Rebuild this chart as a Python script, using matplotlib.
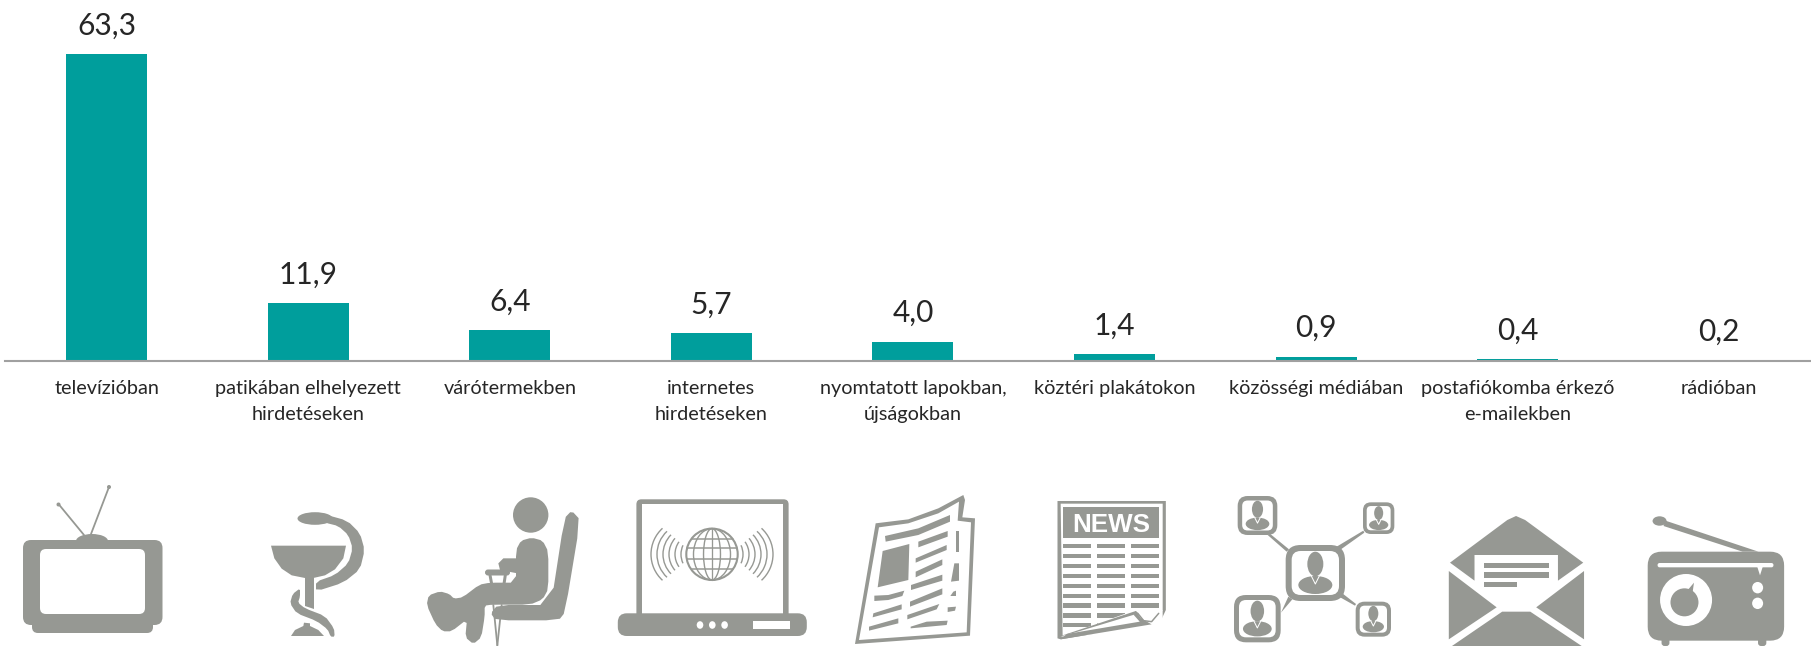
import matplotlib
matplotlib.use("Agg")
import matplotlib.pyplot as plt
import matplotlib.patches as mp
import numpy as np

plt.rcParams['font.family'] = ['Lato', 'DejaVu Sans']

categories = ["televízióban", "patikában elhelyezett\nhirdetéseken", "várótermekben",
              "internetes\nhirdetéseken", "nyomtatott lapokban,\nújságokban", "köztéri plakátokon",
              "közösségi médiában", "postafiókomba érkező\ne-mailekben", "rádióban"]
values = [63.3, 11.9, 6.4, 5.7, 4.0, 1.4, 0.9, 0.4, 0.2]
value_labels = ["63,3", "11,9", "6,4", "5,7", "4,0", "1,4", "0,9", "0,4", "0,2"]

TEAL = "#009E9C"
GRAY = "#969893"
W, H = 1811, 646

fig = plt.figure(figsize=(W / 100, H / 100), dpi=100)

# bar chart, baseline at y=361 px
ax = fig.add_axes([5 / W, (H - 361) / H, 1806 / W, 361 / H])
x = np.arange(len(values))
bars = ax.bar(x, values, width=0.402, color=TEAL)
ax.set_xlim(-0.505, 8.456)
ax.set_ylim(0, 74.4)
for b, lab in zip(bars, value_labels):
    ax.annotate(lab, (b.get_x() + b.get_width() / 2, b.get_height()), xytext=(0, 20.5),
                textcoords="offset points", ha="center", va="center", fontsize=21.5, color="#262626",
                annotation_clip=False)
ax.set_xticks(x)
ax.set_xticklabels(categories, fontsize=14.3, color="#262626", linespacing=1.62)
ax.tick_params(axis="x", length=0, pad=14)
ax.set_yticks([])
for s in ["top", "left", "right"]:
    ax.spines[s].set_visible(False)
ax.spines["bottom"].set_color("#A0A0A0")
ax.spines["bottom"].set_linewidth(1.5)

# icon row, drawn in pixel coordinates
ic = fig.add_axes([0, 0, 1, 1], zorder=5)
ic.set_xlim(0, W)
ic.set_ylim(H, 0)
ic.axis("off")
ic.patch.set_alpha(0)


def soften(pts, n=2):
    # corner cutting, keeps the traced outlines from looking faceted
    p = np.array(pts, float)
    for _ in range(n):
        q = np.roll(p, -1, axis=0)
        p = np.column_stack([0.8 * p + 0.2 * q, 0.2 * p + 0.8 * q]).reshape(-1, 2)
    return p


def poly(pts, c=GRAY, smooth=False, n=2):
    p = soften(pts, n) if smooth else np.array(pts, float)
    ic.add_patch(mp.Polygon(p, closed=True, fc=c, ec="none"))


def rrect(x0, y0, x1, y1, r, c=GRAY):
    ic.add_patch(mp.FancyBboxPatch((x0 + r, y0 + r), x1 - x0 - 2 * r, y1 - y0 - 2 * r,
                                   boxstyle=f"round,pad={r},rounding_size={r}", fc=c, ec="none"))


def oval(cx, cy, rx, ry, c=GRAY):
    ic.add_patch(mp.Ellipse((cx, cy), 2 * rx, 2 * ry, fc=c, ec="none"))


def seg(pts, lw=1.0, c=GRAY):
    p = np.array(pts, float)
    ic.plot(p[:, 0], p[:, 1], color=c, lw=lw * 0.72, solid_capstyle="round")


# television
rrect(32, 600, 153, 633, 6)
rrect(23, 540, 162.5, 625, 8)
rrect(40, 549, 145, 614, 6, "white")
oval(92, 541, 16, 7)
seg([(84, 535), (58.5, 504)], 1.8)
seg([(91, 534), (109, 487)], 1.8)
oval(58.5, 504.5, 2, 2)
oval(109, 487, 2, 2)


# bowl of Hygieia
def b(pts):
    return [(260 + u / 3, 500 + v / 3) for u, v in pts]


poly(b([(33, 137), (258, 137), (250, 175), (225, 208), (195, 226), (160, 234), (135, 234),
        (95, 226), (65, 206), (43, 175)]))
poly(b([(135, 232), (162, 232), (162, 327), (135, 318)]))
oval(315, 518.5, 17.5, 6.3)
poly(b([(190, 42), (262, 62), (300, 100), (314, 150), (300, 208), (250, 248), (168, 274), (168, 245),
        (225, 225), (265, 190), (278, 145), (265, 105), (235, 78), (195, 68)]), smooth=True, n=1)
poly(b([(120, 265), (98, 282), (90, 310), (110, 340), (170, 363), (203, 388), (212, 410), (224, 410),
        (222, 385), (195, 348), (135, 325), (114, 308), (120, 290)]), smooth=True, n=1)
poly(b([(93, 408), (105, 390), (130, 378), (132, 368), (150, 370), (150, 378), (175, 390), (192, 408)]))


# seated patient
def s(pts):
    return [(420 + u / 3, 490 + v / 3) for u, v in pts]


oval(530.7, 515, 17.7, 17.7)
poly(s([(288, 180), (303, 152), (335, 143), (368, 152), (385, 185), (385, 297), (368, 328), (330, 344),
        (215, 344), (194, 347), (194, 380), (184, 442), (160, 462), (136, 442), (141, 388), (95, 424),
        (68, 424), (46, 402), (20, 345), (26, 316), (60, 304), (88, 312), (102, 326), (128, 322),
        (178, 284), (210, 278), (288, 278)]), smooth=True, n=1)
poly(s([(292, 205), (250, 205), (235, 220), (240, 240), (292, 250)]))
rrect(485, 569.5, 510, 575.5, 3)
seg(s([(210, 255), (215, 282)]), 3)
seg(s([(256, 255), (252, 282)]), 3)
poly(s([(433, 85), (455, 62), (481, 90), (435, 367), (416, 391), (228, 391), (212, 370), (233, 345),
        (393, 345)]), smooth=True, n=1)
seg(s([(220, 345), (232, 466)]), 1.8)
seg(s([(245, 345), (232, 466)]), 1.8)

# laptop with globe
rrect(636.4, 499.3, 788.6, 620, 5)
ic.add_patch(mp.Rectangle((642.4, 504.3), 140.2, 116, fc="white", ec="none"))
rrect(617.8, 613.3, 806.8, 636, 9)
ic.add_patch(mp.Rectangle((753.4, 621), 36.6, 7.7, fc="white", ec="none"))
for dx in [700, 712.3, 724.6]:
    oval(dx, 625, 3.3, 3.8, "white")
gx, gy, gr = 712, 554.3, 25.7
ic.add_patch(mp.Ellipse((gx, gy), 2 * gr, 2 * gr, fc="none", ec=GRAY, lw=1.5))
for frac in [0.33, 0.72]:
    ic.add_patch(mp.Ellipse((gx, gy), 2 * gr * frac, 2 * gr, fc="none", ec=GRAY, lw=1.0))
seg([(gx, gy - gr), (gx, gy + gr)], 1.3)
for dy, half in [(-15, 20.5), (-6, 25), (5, 25), (15, 20.5)]:
    seg([(gx - half, gy + dy), (gx + half, gy + dy)], 1.5)
# signal arcs on both sides: apex offset, half height, sagitta
for off, hh, sag in [(31, 9, 2), (37, 12.5, 4), (43, 16, 6), (49, 19.5, 8), (55, 23, 10), (61, 26, 11.5)]:
    rad = (hh ** 2 + sag ** 2) / (2 * sag)
    ang = np.degrees(np.arcsin(min(hh / rad, 1)))
    ic.add_patch(mp.Arc((gx - off + rad, gy), 2 * rad, 2 * rad, theta1=180 - ang, theta2=180 + ang, ec=GRAY, lw=1.0))
    ic.add_patch(mp.Arc((gx + off - rad, gy), 2 * rad, 2 * rad, theta1=-ang, theta2=ang, ec=GRAY, lw=1.0))


# folded newspaper
def p(pts):
    return [(845 + u / 3, 490 + v / 3) for u, v in pts]


poly(p([(30, 462), (92, 100), (190, 88), (280, 55), (355, 15), (360, 30), (352, 82), (390, 85), (375, 437)]))
poly(p([(42, 450), (102, 112), (190, 100), (280, 70), (342, 35), (338, 92), (378, 97), (365, 427)]), "white")
for quad in [[(120, 138), (220, 115), (315, 75), (315, 95), (220, 135), (122, 155)],
             [(113, 183), (193, 162), (190, 270), (98, 292)],
             [(220, 155), (308, 123), (308, 140), (220, 172)],
             [(212, 205), (305, 165), (305, 180), (212, 218)],
             [(212, 245), (292, 208), (292, 225), (212, 262)],
             [(198, 285), (292, 254), (292, 272), (198, 300)],
             [(195, 335), (292, 295), (292, 313), (195, 350)],
             [(187, 375), (283, 342), (275, 358), (187, 388)],
             [(197, 410), (245, 395), (308, 392), (305, 405), (197, 415)],
             [(88, 317), (130, 315), (178, 302), (172, 318), (130, 330), (88, 333)],
             [(85, 370), (170, 343), (170, 358), (83, 382)],
             [(72, 410), (160, 385), (160, 400), (72, 422)],
             [(333, 123), (343, 123), (343, 185), (333, 185)],
             [(328, 220), (342, 220), (342, 272), (318, 275)],
             [(325, 305), (333, 302), (333, 318), (316, 318)],
             [(308, 352), (333, 350), (330, 362), (308, 366)]]:
    poly(p(quad))


# news sheet
def n(pts):
    return [(600 + u / 2.529, 470 + v / 3) for u, v in pts]


poly(n([(1157, 93), (1431, 93), (1431, 420), (1420, 448), (1395, 463), (1165, 508), (1157, 505)]))
poly(n([(1165, 101), (1423, 101), (1423, 420), (1413, 443), (1390, 455), (1170, 497)]), "white")
poly(n([(1172, 112), (1413, 112), (1413, 205), (1172, 205)]))
ic.text(n([(1292, 158)])[0][0], n([(1292, 158)])[0][1], "NEWS", color="white", fontsize=18.7, fontweight="bold",
        family="Liberation Sans", ha="center", va="center_baseline")
for top in [222, 252, 281, 311, 341, 371, 400, 430, 459]:
    for left, right in [(1172, 1243), (1258, 1328), (1343, 1413)]:
        poly(n([(left, top), (right, top), (right, top + 13), (left, top + 13)]))
poly(n([(1165, 500), (1355, 420), (1423, 420), (1423, 480), (1165, 500)]), "white")
poly(n([(1165, 498), (1355, 423), (1362, 430), (1200, 488)]))
poly(n([(1355, 423), (1368, 445), (1395, 463), (1165, 508), (1180, 492), (1365, 455), (1350, 435)]))
seg(n([(1360, 430), (1375, 452), (1395, 455), (1413, 430)]), 1.5)


# social network
def k(pts):
    return [(1225 + u / 3, 490 + v / 3) for u, v in pts]


def contact(x0, x1, y0, y1, t, r):
    x0, y0 = k([(x0, y0)])[0]
    x1, y1 = k([(x1, y1)])[0]
    rrect(x0, y0, x1, y1, r)
    rrect(x0 + t, y0 + t, x1 - t, y1 - t, max(r - t, 1), "white")
    u = (y1 - y0) / 168 * 3
    cx, cy = (x0 + x1) / 2, (y0 + y1) / 2
    oval(cx, cy - 9 * u, 8 * u, 12.3 * u)
    oval(cx, cy + 12 * u, 17 * u, 9 * u)
    seg([(cx - 4 * u, cy + 3 * u), (cx, cy + 11 * u), (cx + 4 * u, cy + 3 * u)], 1.0, "white")


for tri in [[(128, 135), (136, 132), (192, 178), (185, 185)],
            [(415, 122), (418, 128), (345, 180), (335, 170)],
            [(168, 368), (190, 320), (202, 328)],
            [(342, 320), (352, 310), (393, 342), (390, 347)]]:
    poly(k(tri))
contact(182, 360, 165, 333, 6, 15)
contact(38, 157, 18, 135, 4.5, 10)
contact(414, 508, 37, 132, 3.7, 8)
contact(27, 167, 315, 457, 5, 12)
contact(392, 498, 335, 440, 4, 9)


# opened envelope and radio share one scale
def e(pts):
    return [(1191 + u / 2.529, 470 + v / 3) for u, v in pts]


poly(e([(655, 278), (800, 150), (822, 138), (845, 150), (992, 278), (928, 332), (928, 255), (717, 255), (717, 332)]))
poly(e([(741, 278), (905, 278), (905, 294), (741, 294)]))
poly(e([(741, 307), (905, 307), (905, 323), (741, 323)]))
poly(e([(741, 336), (824, 336), (824, 352), (741, 352)]))
poly(e([(652, 303), (773, 412), (652, 508)]))
poly(e([(994, 303), (873, 412), (994, 508)]))
poly(e([(660, 528), (787, 425), (858, 425), (988, 528)]))

(bx0, by0), (bx1, by1) = e([(1155, 245), (1500, 512)])
rrect(e([(1190, 0)])[0][0], 630, e([(1210, 0)])[0][0], 646, 3)
rrect(e([(1434, 0)])[0][0], 630, e([(1455, 0)])[0][0], 646, 3)
rrect(bx0, by0, bx1, by1, 14)
poly(e([(1200, 152), (1435, 245), (1395, 245), (1195, 168)]))
oval(*e([(1185, 153)])[0], 7, 4.7)
(wx0, wy0), (wx1, wy1) = e([(1180, 279), (1473, 292)])
rrect(wx0, wy0, wx1, wy1, 2, "white")
poly(e([(1432, 290), (1446, 290), (1439, 316)]), "white")
oval(*e([(1252, 390)])[0], 26, 26, "white")
oval(*e([(1248, 397)])[0], 14, 14)
poly(e([(1255, 362), (1272, 338), (1268, 372)]))
oval(*e([(1433, 353)])[0], 5.5, 5.7, "white")
oval(*e([(1433, 400)])[0], 5.5, 5.7, "white")

fig.savefig("out.png", dpi=100, facecolor="white")
